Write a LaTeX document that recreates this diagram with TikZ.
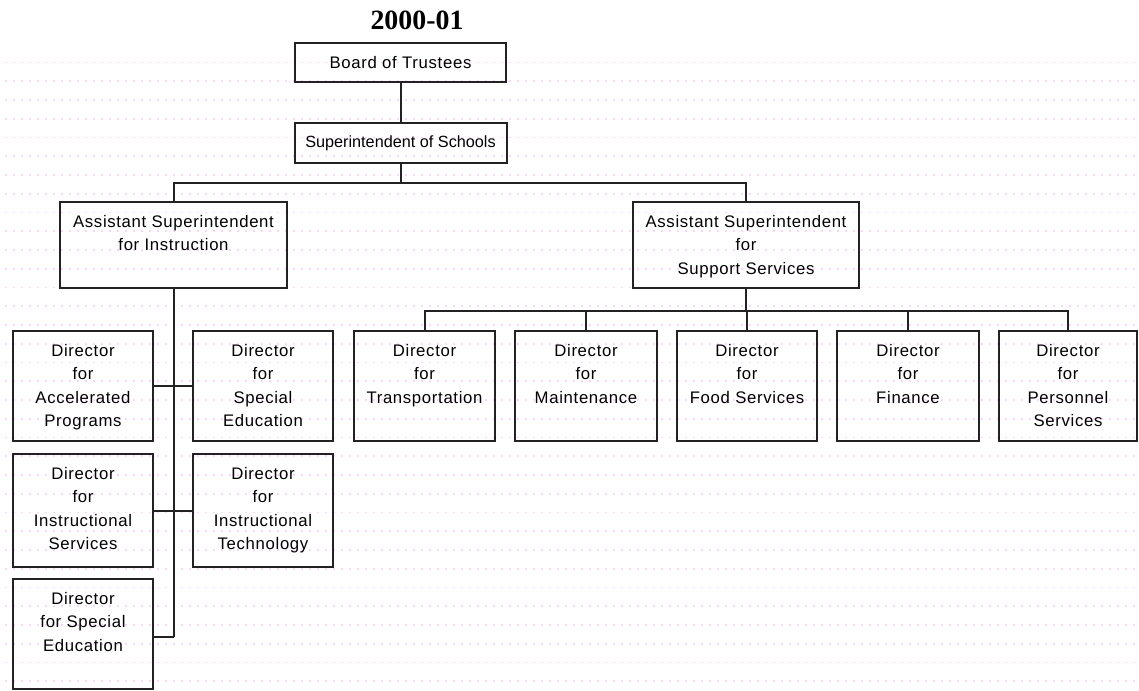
\documentclass[tikz,border=0pt]{standalone}
\usepackage{fontspec}
\setmainfont{Liberation Sans}
\newfontfamily\headfont{Liberation Serif}
\newfontfamily\boxfont{Liberation Sans}[LetterSpace=4]
\definecolor{gridpink}{RGB}{250,212,250}
\definecolor{ink}{RGB}{34,34,34}
\tikzset{
  orgline/.style={draw=ink, line width=2bp},
  orgbox/.style={orgline, rectangle, inner sep=0pt},
  orgtext/.style={inner sep=0pt, align=center, font=\boxfont\fontsize{16.8}{23.5}\selectfont, text=black},
  griddot/.style={draw=gridpink, line width=1.8bp, dash pattern=on 1.8bp off 6.2bp},
}
% \orgbox{name}{left}{top}{right}{bottom}{text}: framed box, text hung from its top edge
\newcommand\orgbox[6]{%
  \node[orgbox, minimum width={(#4-#2)*1bp}, minimum height={(#5-#3)*1bp}]
    (#1) at ({(#2+#4)/2},{(#3+#5)/2}) {};
  \node[orgtext, anchor=north] (#1-t) at ({(#2+#4)/2},{#3+13}) {#6};
}
\begin{document}
\begin{tikzpicture}[x=1bp, y=-1bp]
\useasboundingbox (0,0) rectangle (1139,691);

% faint dotted background
\foreach \r in {0,...,33}
  \draw[griddot] (5,{62.5+\r*18.75}) -- (1139,{62.5+\r*18.75});

% title
\node[inner sep=0pt, font=\headfont\bfseries\fontsize{28}{30}\selectfont] (title) at (417,20) {2000-01};

% boxes
\orgbox{board}{295}{43}{506}{82}{Board of Trustees}
\node[orgbox, minimum width=212bp, minimum height=40bp] (super) at (400.5,143) {};
\node[orgtext, font=\fontsize{16.3}{23.5}\selectfont] (super-t) at (400.5,143) {Superintendent of Schools};

\orgbox{ai}{60}{202}{287}{288}{Assistant Superintendent\\for Instruction}
\orgbox{as}{633}{202}{859}{288}{Assistant Superintendent\\for\\Support Services}

\orgbox{tr}{354}{331}{495}{441}{Director\\for\\Transportation}
\orgbox{mn}{515}{331}{657}{441}{Director\\for\\Maintenance}
\orgbox{fd}{677}{331}{817}{441}{Director\\for\\Food Services}
\orgbox{fi}{837}{331}{979}{441}{Director\\for\\Finance}
\orgbox{pe}{999}{331}{1137}{441}{Director\\for\\Personnel\\Services}

\orgbox{acc}{13}{331}{153}{441}{Director\\for\\Accelerated\\Programs}
\orgbox{spe}{193}{331}{333}{441}{Director\\for\\Special\\Education}
\orgbox{ins}{13}{454}{153}{567}{Director\\for\\Instructional\\Services}
\orgbox{tech}{193}{454}{333}{567}{Director\\for\\Instructional\\Technology}
\orgbox{spb}{13}{579}{153}{689}{Director\\for Special\\Education}

% connectors
\coordinate (busA) at (0,183);
\coordinate (busB) at (0,311);
\coordinate (spineEnd) at (0,637);

\draw[orgline] (board.south) -- (super.north);
\draw[orgline] (super.south) -- (super.south |- busA);
\draw[orgline] (ai.north) -- (ai.north |- busA) -- (as.north |- busA) -- (as.north);

\draw[orgline] (as.south) -- (as.south |- busB);
\draw[orgline] (tr.north) -- (tr.north |- busB) -- (pe.north |- busB) -- (pe.north);
\foreach \n in {mn,fd,fi}
  \draw[orgline] (\n.north) -- (\n.north |- busB);

\draw[orgline] (ai.south) -- (ai.south |- spineEnd);
\draw[orgline] (acc.east) -- (spe.west);
\draw[orgline] (ins.east) -- (tech.west);
\draw[orgline] (spb.east |- spineEnd) -- (ai.south |- spineEnd);
\end{tikzpicture}
\end{document}
